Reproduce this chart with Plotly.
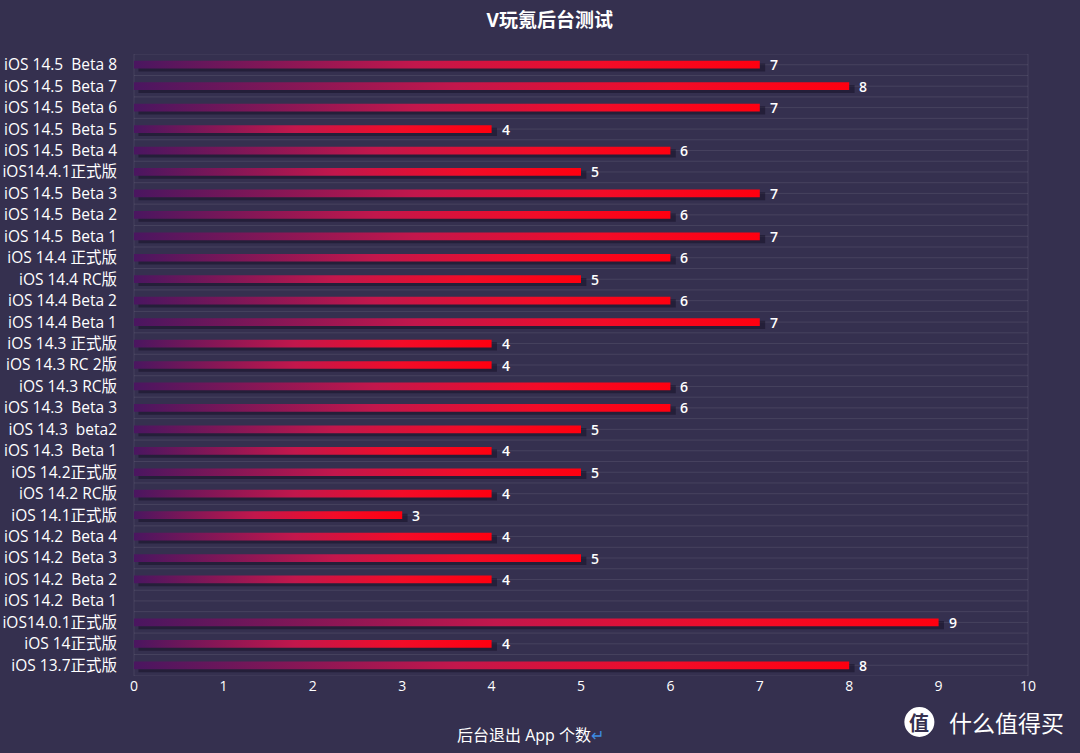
import plotly.graph_objects as go

S = "\u00a0 "
categories = [
    "iOS 14.5" + S + "Beta 8", "iOS 14.5" + S + "Beta 7", "iOS 14.5" + S + "Beta 6", "iOS 14.5" + S + "Beta 5",
    "iOS 14.5" + S + "Beta 4", "iOS14.4.1正式版", "iOS 14.5" + S + "Beta 3", "iOS 14.5" + S + "Beta 2",
    "iOS 14.5" + S + "Beta 1", "iOS 14.4 正式版", "iOS 14.4 RC版", "iOS 14.4 Beta 2",
    "iOS 14.4 Beta 1", "iOS 14.3 正式版", "iOS 14.3 RC 2版", "iOS 14.3 RC版",
    "iOS 14.3" + S + "Beta 3", "iOS 14.3" + S + "beta2", "iOS 14.3" + S + "Beta 1", "iOS 14.2正式版",
    "iOS 14.2 RC版", "iOS 14.1正式版", "iOS 14.2" + S + "Beta 4", "iOS 14.2" + S + "Beta 3",
    "iOS 14.2" + S + "Beta 2", "iOS 14.2" + S + "Beta 1", "iOS14.0.1正式版", "iOS 14正式版",
    "iOS 13.7正式版",
]
values = [7, 8, 7, 4, 6, 5, 7, 6, 7, 6, 5, 6, 7, 4, 4, 6, 6, 5, 4, 5, 4, 3, 4, 5, 4, None, 9, 4, 8]
x_ticks = [0, 1, 2, 3, 4, 5, 6, 7, 8, 9, 10]

BG = "#35304f"
FONT = "Open Sans, Noto Sans CJK SC, sans-serif"
HALF = 0.18
grad = [[0, "#4a1660"], [0.45, "#c2174c"], [0.75, "#f20c28"], [1, "#ff0010"]]

fig = go.Figure()
n = len(categories)

shapes = []
for k in range(2 * n + 1):
    yv = -0.5 + k * 0.5
    shapes.append(dict(type="line", xref="paper", yref="y", x0=0, x1=1, y0=yv, y1=yv,
                       line=dict(color="rgba(255,255,255,0.09)", width=1), layer="below"))
for xv in [0, 1]:
    shapes.append(dict(type="line", xref="paper", yref="paper", x0=xv, x1=xv, y0=0, y1=1,
                       line=dict(color="rgba(255,255,255,0.09)", width=1), layer="below"))
shapes.append(dict(type="circle", xref="paper", yref="paper",
                   x0=0.8617, x1=0.8953, y0=-0.0981, y1=-0.0498,
                   fillcolor="white", line=dict(width=0)))

annotations = []
for i, v in enumerate(values):
    if v is None:
        continue
    fig.add_trace(go.Scatter(
        x=[0.05, v + 0.06, v + 0.06, 0.05, 0.05],
        y=[i - HALF + 0.12, i - HALF + 0.12, i + HALF + 0.14, i + HALF + 0.14, i - HALF + 0.12],
        fill="toself", fillcolor="rgba(15,10,30,0.45)", mode="none",
        hoverinfo="skip", showlegend=False))
    fig.add_trace(go.Scatter(
        x=[0, v, v, 0, 0],
        y=[i - HALF, i - HALF, i + HALF, i + HALF, i - HALF],
        fill="toself", mode="none",
        fillgradient=dict(type="horizontal", colorscale=grad),
        hoverinfo="skip", showlegend=False))
    annotations.append(dict(x=v, y=i, xref="x", yref="y", text=str(v), showarrow=False,
                            xanchor="left", xshift=8,
                            font=dict(color="white", size=14, family=FONT, weight=600)))

annotations.append(dict(
    x=0.444, y=-0.095, xref="paper", yref="paper", showarrow=False,
    text="后台退出 App 个数<span style='color:#3d8be0'>↵</span>",
    font=dict(color="white", size=16, family=FONT), xanchor="center", yanchor="middle"))
annotations.append(dict(
    x=0.8785, y=-0.074, xref="paper", yref="paper", showarrow=False,
    text="<b>值</b>",
    font=dict(color=BG, size=20, family="Noto Sans CJK SC"), xanchor="center", yanchor="middle"))
annotations.append(dict(
    x=1.0425, y=-0.074, xref="paper", yref="paper", showarrow=False,
    text="什么值得买",
    font=dict(color="white", size=23, family="Noto Sans CJK SC"), xanchor="right", yanchor="middle"))

fig.update_layout(
    width=1080, height=753,
    paper_bgcolor=BG, plot_bgcolor=BG,
    margin=dict(l=134, r=52, t=54, b=77),
    title=dict(text="<b>V玩氪后台测试</b>", x=0.509, xanchor="center", y=0.973, yanchor="middle",
               font=dict(color="white", size=19, family=FONT)),
    xaxis=dict(range=[0, 10], tickvals=x_ticks, showgrid=False, zeroline=False,
               showline=False, ticks="", tickfont=dict(color="white", size=14, family=FONT),
               fixedrange=True),
    yaxis=dict(range=[n - 0.5, -0.5], tickvals=list(range(n)), ticktext=categories,
               showgrid=False, zeroline=False, showline=False, ticks="",
               ticklabelstandoff=16, automargin=False,
               tickfont=dict(color="white", size=15.5, family=FONT)),
    shapes=shapes,
    annotations=annotations,
    showlegend=False,
)

fig.write_html("out.html", config={"displayModeBar": False},
               post_script="document.body.style.margin='0';document.body.style.overflow='hidden';")
